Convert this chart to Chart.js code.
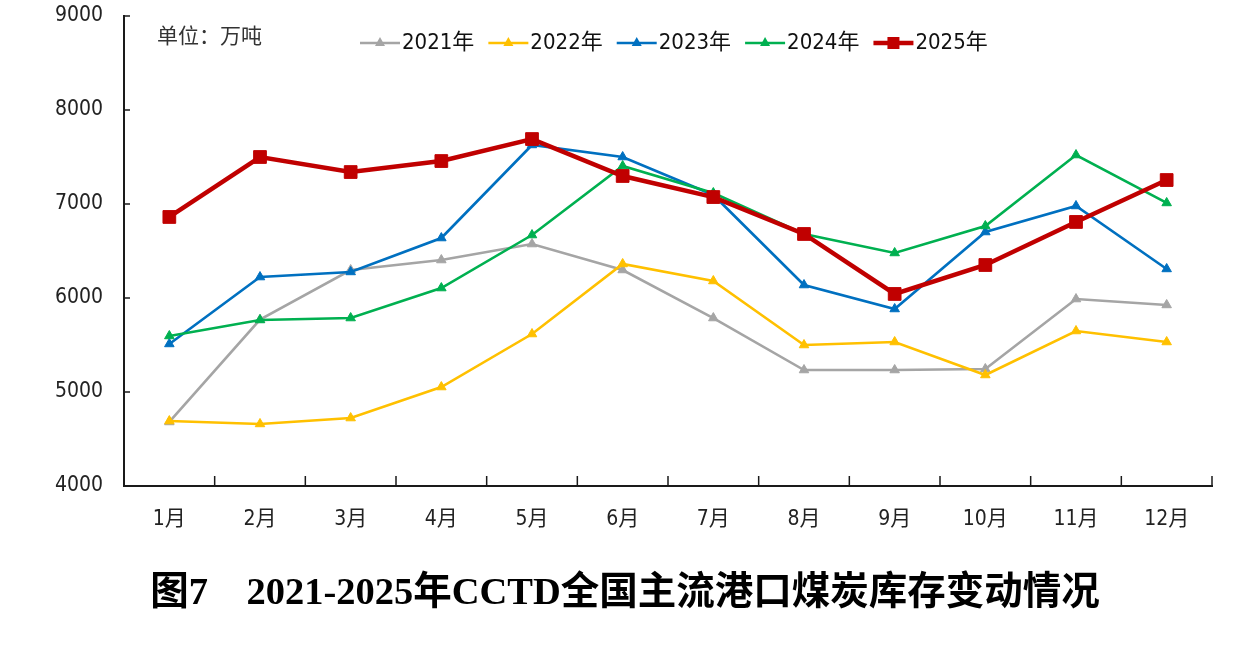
<!DOCTYPE html>
<html lang="zh">
<head>
<meta charset="UTF-8" />
<title>CCTD港口煤炭库存</title>
<style>
  html, body { margin: 0; padding: 0; background: #fff; }
  #wrap { width: 1246px; height: 655px; position: relative; }
</style>
</head>
<body>
<div id="wrap"><canvas id="chart" width="1246" height="655"></canvas></div>

<script src="https://cdn.jsdelivr.net/npm/chart.js"></script>
<script>
  // data (万吨)
  const months = ['1月', '2月', '3月', '4月', '5月', '6月', '7月', '8月', '9月', '10月', '11月', '12月'];
  const yTickValues = [4000, 5000, 6000, 7000, 8000, 9000];
  const seriesNames = ['2021年', '2022年', '2023年', '2024年', '2025年'];
  const y2021 = [4681, 5770, 6298, 6404, 6574, 6298, 5787, 5234, 5234, 5245, 5989, 5926];
  const y2022 = [4691, 4660, 4723, 5053, 5617, 6362, 6181, 5500, 5532, 5181, 5649, 5532];
  const y2023 = [5511, 6223, 6277, 6638, 7628, 7500, 7096, 6138, 5883, 6702, 6979, 6309];
  const y2024 = [5596, 5766, 5787, 6106, 6670, 7404, 7117, 6681, 6479, 6766, 7521, 7011];
  const y2025 = [6862, 7500, 7340, 7457, 7691, 7298, 7074, 6681, 6043, 6351, 6809, 7255];

  const colors = ['#A5A5A5', '#FFC000', '#0070C0', '#00B050', '#C00000'];
  const tickFont = '"Liberation Sans Narrow", "DejaVu Sans Condensed", "Noto Sans CJK SC", sans-serif';

  function makeSet(i, data) {
    const last = i === 4;
    return {
      label: seriesNames[i],
      data: data,
      borderColor: colors[i],
      backgroundColor: colors[i],
      borderWidth: last ? 4.5 : 2.6,
      pointStyle: last ? 'rect' : 'triangle',
      pointRadius: last ? 9 : 5.5,
      pointBorderWidth: 1,
      pointBorderColor: colors[i],
      pointBackgroundColor: colors[i],
      tension: 0,
      order: 5 - i
    };
  }

  // marker for the hand drawn legend
  function drawMarker(ctx, style, x, y, color) {
    ctx.fillStyle = color;
    ctx.beginPath();
    if (style === 'rect') {
      ctx.rect(x - 6, y - 6, 12, 12);
    } else {
      ctx.moveTo(x, y - 6);
      ctx.lineTo(x + 5, y + 3);
      ctx.lineTo(x - 5, y + 3);
      ctx.closePath();
    }
    ctx.fill();
  }

  const decorPlugin = {
    id: 'decor',
    beforeDatasetsDraw(chart) {
      const ctx = chart.ctx;
      const xs = chart.scales.x, ys = chart.scales.y;
      ctx.save();
      ctx.strokeStyle = '#1a1a1a';
      ctx.lineWidth = 1.5;
      // inside ticks on y axis
      yTickValues.forEach(v => {
        const y = ys.getPixelForValue(v);
        ctx.beginPath();
        ctx.moveTo(xs.left, y);
        ctx.lineTo(xs.left + 6, y);
        ctx.stroke();
      });
      // inside ticks on x axis at category borders
      for (let i = 0; i <= months.length; i++) {
        const x = xs.getPixelForValue(i - 0.5);
        ctx.beginPath();
        ctx.moveTo(x, ys.bottom);
        ctx.lineTo(x, ys.bottom - 10);
        ctx.stroke();
      }
      ctx.restore();
    },
    afterDraw(chart) {
      const ctx = chart.ctx;
      ctx.save();
      // unit label
      ctx.fillStyle = '#333';
      ctx.font = '21px "Noto Sans CJK SC", sans-serif';
      ctx.textBaseline = 'middle';
      ctx.textAlign = 'left';
      ctx.fillText('单位：万吨', 157, 35);

      // legend
      ctx.font = '22px ' + tickFont;
      let x = 360;
      const ly = 43;
      chart.data.datasets.forEach((ds, i) => {
        ctx.strokeStyle = ds.borderColor;
        ctx.lineWidth = i === 4 ? 4.5 : 2.6;
        ctx.beginPath();
        ctx.moveTo(x, ly);
        ctx.lineTo(x + 40, ly);
        ctx.stroke();
        drawMarker(ctx, ds.pointStyle, x + 20, ly, ds.borderColor);
        ctx.fillStyle = '#111';
        ctx.fillText(ds.label, x + 42, ly);
        x += 42 + ctx.measureText(ds.label).width + 14;
      });

      // caption
      ctx.fillStyle = '#000';
      ctx.textAlign = 'center';
      ctx.font = 'bold 38.5px "Liberation Serif", "Noto Sans CJK SC", serif';
      ctx.fillText('图7\u30002021-2025年CCTD全国主流港口煤炭库存变动情况', 625, 594);
      ctx.restore();
    }
  };

  new Chart(document.getElementById('chart'), {
    type: 'line',
    data: {
      labels: months,
      datasets: [makeSet(0, y2021), makeSet(1, y2022), makeSet(2, y2023), makeSet(3, y2024), makeSet(4, y2025)]
    },
    options: {
      responsive: false,
      animation: false,
      layout: { padding: { left: 0, right: 34, top: 16, bottom: 0 } },
      plugins: { legend: { display: false }, tooltip: { enabled: false }, title: { display: false } },
      scales: {
        x: {
          offset: true,
          grid: { display: false },
          border: { display: true, color: '#1a1a1a', width: 2 },
          ticks: { color: '#222', padding: 13, font: { family: tickFont, size: 21 }, maxRotation: 0 },
          afterFit(scale) { scale.height = 169; scale.paddingLeft = 0; scale.paddingRight = 0; }
        },
        y: {
          min: 4000,
          max: 9000,
          grid: { display: false },
          border: { display: true, color: '#1a1a1a', width: 2 },
          ticks: {
            stepSize: 1000, color: '#222', padding: 13,
            font: { family: tickFont, size: 21 },
            callback: v => String(v)
          },
          afterFit(scale) { scale.width = 124; scale.paddingTop = 0; scale.paddingBottom = 0; }
        }
      }
    },
    plugins: [decorPlugin]
  });
</script>
</body>
</html>
